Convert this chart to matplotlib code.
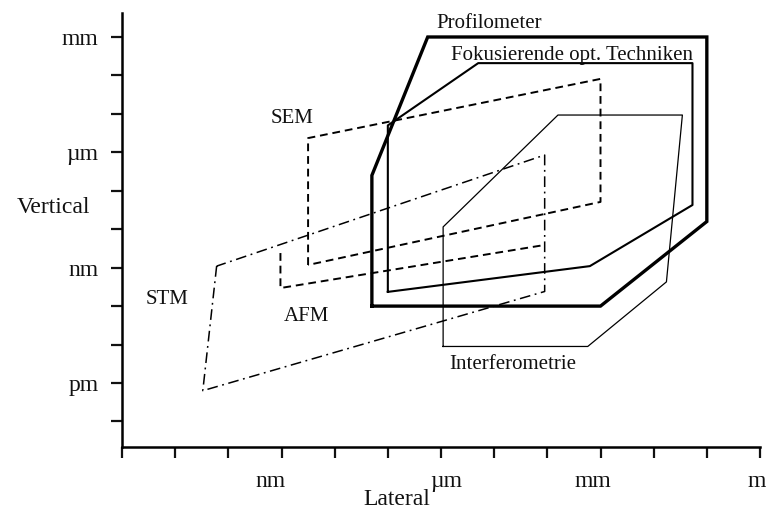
import matplotlib
matplotlib.use("Agg")
import matplotlib.pyplot as plt
from matplotlib.transforms import ScaledTranslation

# ---- data (log10 of length in metres) ----
x_ticks = [-12, -11, -10, -9, -8, -7, -6, -5, -4, -3, -2, -1, 0]
x_tick_labels = ["", "", "", "nm", "", "", "µm", "", "", "mm", "", "", "m"]
y_ticks = [-3, -4, -5, -6, -7, -8, -9, -10, -11, -12, -13]
y_tick_labels = ["mm", "", "", "µm", "", "", "nm", "", "", "pm", ""]

profil_x = [-7.3, -7.3, -6.25, -1.0, -1.0, -3.0]
profil_y = [-10.0, -6.6, -3.0, -3.0, -7.8, -10.0]
fokus_x = [-7.0, -7.0, -5.3, -1.27, -1.27, -3.2]
fokus_y = [-9.63, -5.3, -3.68, -3.68, -7.37, -8.96]
sem_x = [-8.5, -8.5, -3.0, -3.0]
sem_y = [-8.93, -5.63, -4.09, -7.29]
stm_x = [-10.22, -10.48, -4.05, -4.05]
stm_y = [-8.96, -12.2, -9.62, -6.07]
afm_x = [-9.02, -9.02, -4.05]
afm_y = [-8.62, -9.53, -8.41]
interf_x = [-5.96, -5.96, -3.8, -1.46, -1.76, -3.24]
interf_y = [-11.05, -7.94, -5.03, -5.03, -9.37, -11.05]

labels = ["SEM", "STM", "AFM", "Profilometer", "Fokusierende opt. Techniken", "Interferometrie"]
label_x = [-8.81, -11.16, -8.53, -5.10, -3.54, -4.65]
label_y = [-5.13, -9.84, -10.26, -2.64, -3.49, -11.53]

plt.rcParams['font.family'] = ['Liberation Serif', 'DejaVu Serif']

fig = plt.figure(figsize=(7.67, 5.16), dpi=100)
ax = fig.add_axes([122/767, 69/516, 638/767, 434/516])
ax.set_xlim(-12, 0)
ax.set_ylim(-13.665, -2.376)

def closed(xs, ys):
    return list(xs) + [xs[0]], list(ys) + [ys[0]]

k = 'black'
x, y = closed(profil_x, profil_y)
ax.plot(x, y, color=k, lw=2.4, solid_joinstyle='miter')
x, y = closed(fokus_x, fokus_y)
ax.plot(x, y, color=k, lw=1.5)
x, y = closed(interf_x, interf_y)
ax.plot(x, y, color=k, lw=0.9)
x, y = closed(sem_x, sem_y)
ax.plot(x, y, color=k, lw=1.4, linestyle=(0, (4, 2.5)))
ax.plot(afm_x, afm_y, color=k, lw=1.4, linestyle=(0, (4, 2.5)))
x, y = closed(stm_x, stm_y)
ax.plot(x, y, color=k, lw=1.1, linestyle=(0, (7, 3, 1.2, 3)))

for t, lx, ly in zip(labels, label_x, label_y):
    ax.text(lx, ly, t, fontsize=15, ha='center', va='center', color='#111111')

for s in ['top', 'right']:
    ax.spines[s].set_visible(False)
for s in ['left', 'bottom']:
    ax.spines[s].set_linewidth(1.8)

ax.set_xticks(x_ticks)
ax.set_xticklabels(x_tick_labels, fontsize=17)
ax.set_yticks(y_ticks)
ax.set_yticklabels(y_tick_labels, fontsize=17)
ax.tick_params(axis='both', direction='out', length=8, width=1.6, pad=9, colors='#111111')

offsets = {"nm": -11, "µm": 5, "mm": -8, "m": -3}
for lab in ax.get_xticklabels():
    dx = offsets.get(lab.get_text(), 0)
    lab.set_transform(lab.get_transform() + ScaledTranslation(dx / 100, 0, fig.dpi_scale_trans))

ax.text(-0.107, 0.551, "Vertical", transform=ax.transAxes, fontsize=17, ha='center', va='center', color='#111111')
ax.text(0.431, -0.122, "Lateral", transform=ax.transAxes, fontsize=17, ha='center', va='center', color='#111111')

fig.savefig("out.png", dpi=100, facecolor='white')
